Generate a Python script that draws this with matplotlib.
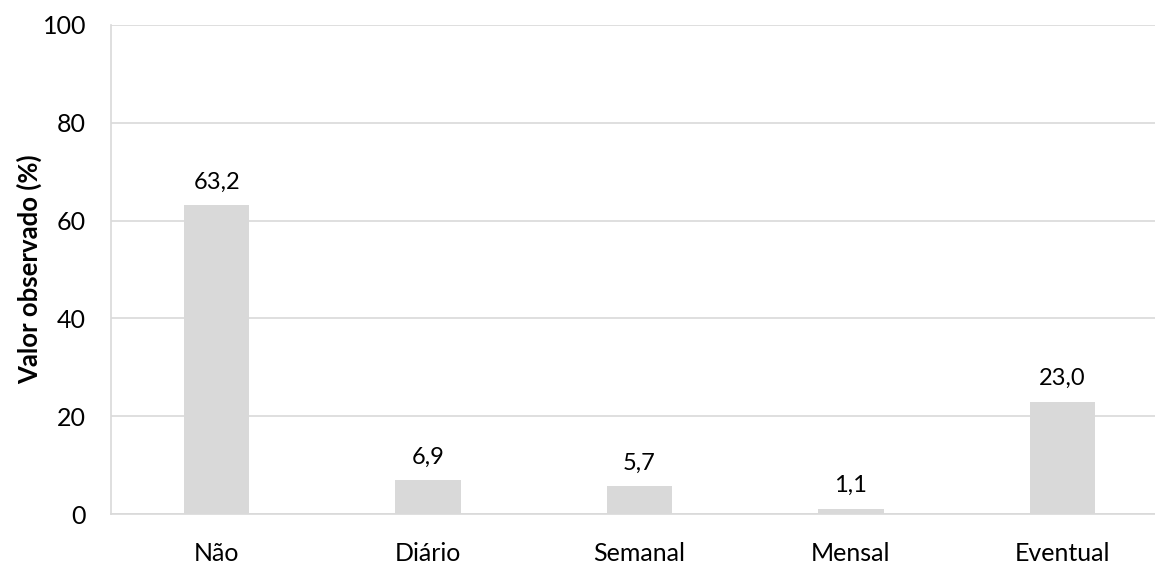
import matplotlib
matplotlib.use("Agg")
from matplotlib import pyplot as plt

categorias = ["Não", "Diário", "Semanal", "Mensal", "Eventual"]
valores = [63.2, 6.9, 5.7, 1.1, 23.0]
rotulos = ["63,2", "6,9", "5,7", "1,1", "23,0"]
yticks = [0, 20, 40, 60, 80, 100]

plt.rcParams['font.family'] = ['Lato', 'DejaVu Sans']
cinza = "#D9D9D9"

fig = plt.figure(figsize=(11.55, 5.65), dpi=100)
ax = fig.add_axes([111/1155, 51/565, 1057/1155, 489/565])

x = range(len(categorias))
bars = ax.bar(x, valores, width=0.31, color=cinza, zorder=2)

for b, r in zip(bars, rotulos):
    ax.annotate(r, (b.get_x() + b.get_width()/2, b.get_height()),
                xytext=(0, 9), textcoords="offset points",
                ha="center", va="bottom", fontsize=17, color="#000000")

ax.set_xlim(-0.5, 4.5)
ax.set_ylim(0, 100)
ax.set_yticks(yticks)
ax.set_xticks(list(x))
ax.set_xticklabels(categorias)
ax.tick_params(axis="both", length=0, labelsize=18)
ax.tick_params(axis="y", pad=18)
ax.tick_params(axis="x", pad=20)

ax.yaxis.grid(True, color=cinza, linewidth=1.2, zorder=0)
ax.set_axisbelow(True)
for s in ["top", "right"]:
    ax.spines[s].set_visible(False)
for s in ["left", "bottom"]:
    ax.spines[s].set_color(cinza)
    ax.spines[s].set_linewidth(1.2)

ax.set_ylabel("Valor observado (%)", fontsize=18.5, fontweight="bold", labelpad=0)

fig.savefig("out.png", dpi=100)
